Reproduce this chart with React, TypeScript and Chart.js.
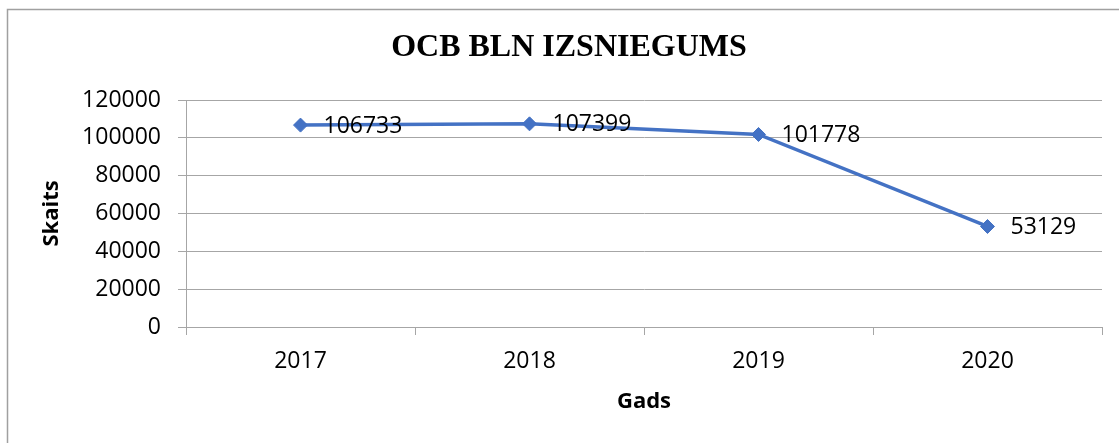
import React, { useEffect, useRef } from "react";
import { Chart, registerables } from "chart.js";

Chart.register(...registerables);

const categories = ["2017", "2018", "2019", "2020"];
const values = [106733, 107399, 101778, 53129];
const chartTitle = "OCB BLN IZSNIEGUMS";
const yAxisTitle = "Skaits";
const xAxisTitle = "Gads";
const yMin = 0;
const yMax = 120000;
const yStep = 20000;

const FONT = "'Open Sans', sans-serif";

const decorPlugin = {
  id: "decor",
  beforeDraw(chart: any) {
    const ctx = chart.ctx;
    ctx.save();
    ctx.fillStyle = "#ffffff";
    ctx.fillRect(0, 0, chart.width, chart.height);
    ctx.strokeStyle = "#a0a0a0";
    ctx.lineWidth = 1.5;
    ctx.strokeRect(7.5, 9.5, 1300, 600);
    ctx.restore();
  },
  afterDraw(chart: any) {
    const ctx = chart.ctx;
    const area = chart.chartArea;
    ctx.save();
    ctx.fillStyle = "#000000";
    ctx.textAlign = "center";
    ctx.textBaseline = "middle";
    ctx.font = "bold 32px 'Liberation Serif', serif";
    ctx.fillText(chartTitle, 569, 48);
    ctx.font = `bold 22px ${FONT}`;
    ctx.fillText(xAxisTitle, (area.left + area.right) / 2, 402);
    ctx.translate(52, (area.top + area.bottom) / 2);
    ctx.rotate(-Math.PI / 2);
    ctx.fillText(yAxisTitle, 0, 0);
    ctx.restore();
  },
  afterDatasetsDraw(chart: any) {
    const ctx = chart.ctx;
    const meta = chart.getDatasetMeta(0);
    ctx.save();
    ctx.fillStyle = "#000000";
    ctx.font = `23px ${FONT}`;
    ctx.textAlign = "left";
    ctx.textBaseline = "middle";
    meta.data.forEach((pt: any, i: number) => {
      ctx.fillText(String(values[i]), pt.x + 23, pt.y + 1);
    });
    ctx.restore();
  },
};

export default function App() {
  const ref = useRef<HTMLCanvasElement | null>(null);
  useEffect(() => {
    if (!ref.current) return;
    const chart = new Chart(ref.current, {
      type: "line",
      data: {
        labels: categories,
        datasets: [
          {
            data: values,
            borderColor: "#4472C4",
            backgroundColor: "#4472C4",
            borderWidth: 3.5,
            pointStyle: "rectRot",
            pointRadius: 7,
            pointBorderWidth: 1,
            pointBorderColor: "#4472C4",
            pointBackgroundColor: "#4472C4",
            tension: 0,
          },
        ],
      },
      options: {
        responsive: false,
        animation: false,
        layout: { padding: { left: 0, top: 100, right: 17, bottom: 0 } },
        plugins: {
          legend: { display: false },
          title: { display: false },
          tooltip: { enabled: false },
        },
        scales: {
          x: {
            offset: true,
            afterFit(scale: any) {
              scale.height = 116;
            },
            grid: {
              offset: true,
              drawOnChartArea: false,
              drawTicks: true,
              tickLength: 8,
              color: "#a6a6a6",
            },
            border: { display: true, color: "#a6a6a6" },
            ticks: {
              color: "#000000",
              font: { family: FONT, size: 23 },
              padding: 13,
              maxRotation: 0,
            },
          },
          y: {
            min: yMin,
            max: yMax,
            afterFit(scale: any) {
              scale.width = 186;
            },
            grid: {
              drawOnChartArea: true,
              drawTicks: true,
              tickLength: 8,
              color: "#a6a6a6",
            },
            border: { display: true, color: "#a6a6a6" },
            ticks: {
              stepSize: yStep,
              color: "#000000",
              font: { family: FONT, size: 23 },
              padding: 17,
              callback: (v: any) => String(v),
            },
          },
        },
      },
      plugins: [decorPlugin],
    });
    return () => chart.destroy();
  }, []);
  return (
    <div style={{ position: "fixed", left: 0, top: 0, width: 1119, height: 443, background: "#fff" }}>
      <canvas ref={ref} width={1119} height={443} style={{ display: "block" }} />
    </div>
  );
}
